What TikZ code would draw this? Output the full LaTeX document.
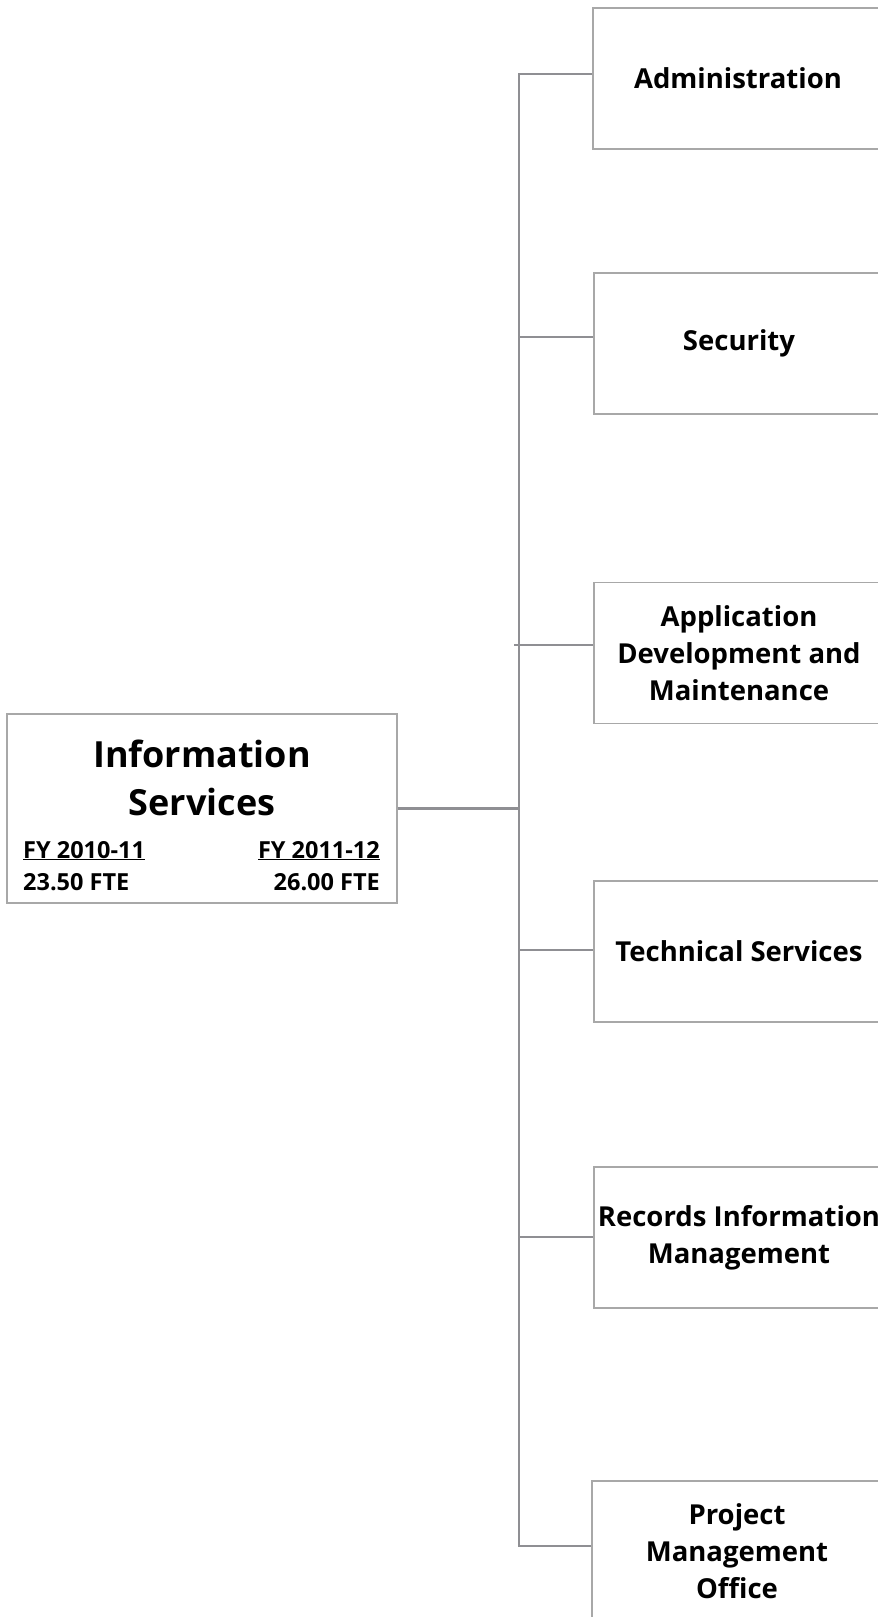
\documentclass[tikz,border=0pt]{standalone}
\usepackage{fontspec}
\setmainfont{Open Sans}
\usetikzlibrary{positioning}
\definecolor{linkgray}{HTML}{8F8F93}
\definecolor{boxgray}{HTML}{A8A8A8}

\begin{document}
\begin{tikzpicture}[x=1pt,y=-1pt,
  unit/.style={draw=boxgray,line width=1.3pt,fill=white,align=center,
               font=\fontsize{27.5}{37}\selectfont\bfseries,
               minimum width=290pt,minimum height=141pt},
  head/.style={draw=boxgray,line width=1.3pt,minimum width=390pt,
               minimum height=189pt},
  headtext/.style={align=center,font=\fontsize{36}{48}\selectfont\bfseries},
  fte/.style={font=\fontsize{23.5}{27}\selectfont\bfseries,inner sep=0pt},
  link/.style={draw=linkgray,line width=2.2pt}]
  \useasboundingbox (0,0) rectangle (878,1617);
  % head unit
  \node[head] (is) at (202,808.5) {};
  \node[headtext] (ist) at (202,778) {Information\\Services};
  \node[fte,anchor=base west] (fya) at (23,858) {\underline{FY 2010-11}};
  \node[fte,anchor=base east] (fyb) at (380,858) {\underline{FY 2011-12}};
  \node[fte,anchor=base west] (ftea) at (23,890) {23.50 FTE};
  \node[fte,anchor=base east] (fteb) at (380,890) {26.00 FTE};
  % sub units
  \node[unit] (adm) at (738,78.5) {Administration};
  \node[unit] (sec) at (739,343.5) {Security};
  \node[unit] (app) at (739,653) {Application\\Development and\\Maintenance};
  \node[unit] (tec) at (739,951.5) {Technical Services};
  \node[unit] (rim) at (739,1237.5) {Records Information\\Management};
  \node[unit] (pmo) at (737,1551.5) {Project\\Management\\Office};
  % trunk and branches
  \coordinate (ttop) at (519,74);
  \coordinate (tbot) at (519,1546);
  \coordinate (jsec) at (519,337);
  \coordinate (japp) at (514,645);
  \coordinate (jtec) at (519,950);
  \coordinate (jrim) at (519,1237);
  \draw[link] (adm.west |- ttop) -- (ttop) -- (tbot) -- (pmo.west |- tbot);
  \draw[link] (is.east) -- (is.east -| ttop);
  \draw[link] (jsec) -- (sec.west |- jsec);
  \draw[link] (japp) -- (app.west |- japp);
  \draw[link] (jtec) -- (tec.west |- jtec);
  \draw[link] (jrim) -- (rim.west |- jrim);
\end{tikzpicture}
\end{document}
